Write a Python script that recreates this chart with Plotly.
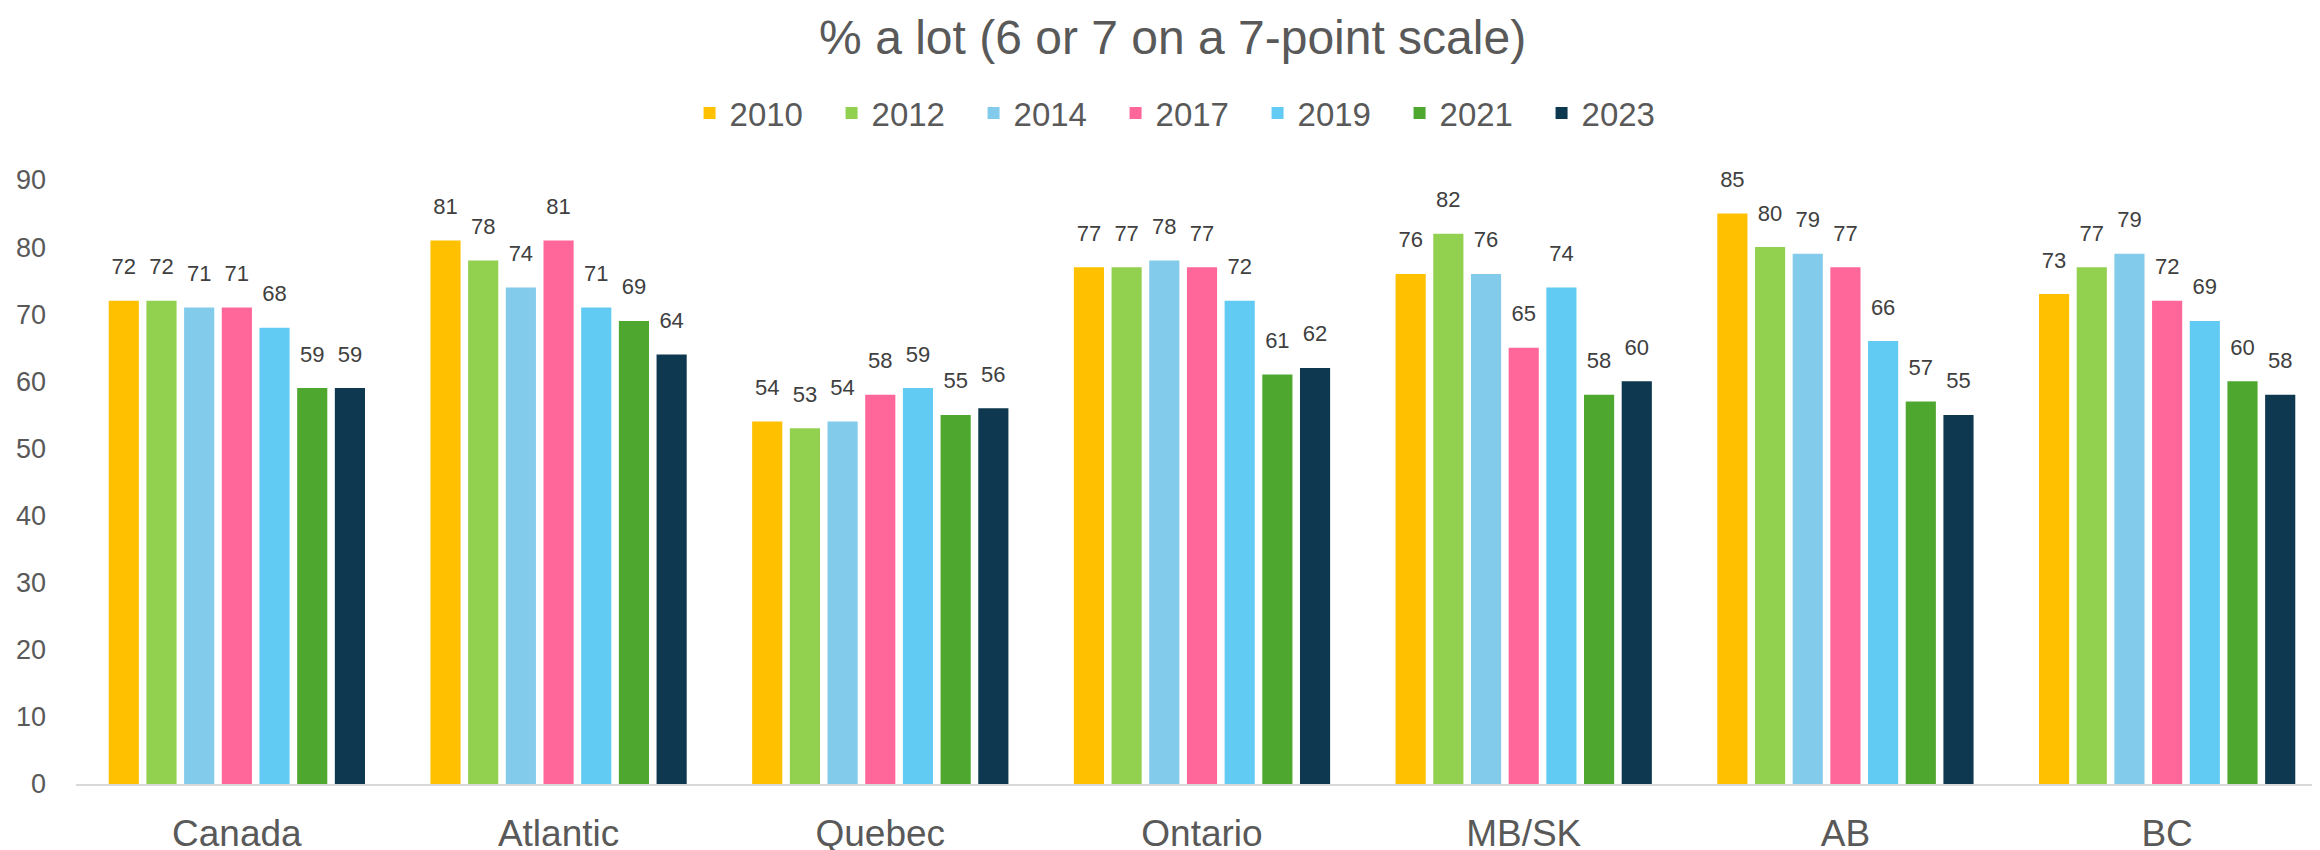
import plotly.graph_objects as go

regions = ["Canada", "Atlantic", "Quebec", "Ontario", "MB/SK", "AB", "BC"]
years = ["2010", "2012", "2014", "2017", "2019", "2021", "2023"]

v2010 = [72, 81, 54, 77, 76, 85, 73]
v2012 = [72, 78, 53, 77, 82, 80, 77]
v2014 = [71, 74, 54, 78, 76, 79, 79]
v2017 = [71, 81, 58, 77, 65, 77, 72]
v2019 = [68, 71, 59, 72, 74, 66, 69]
v2021 = [59, 69, 55, 61, 58, 57, 60]
v2023 = [59, 64, 56, 62, 60, 55, 58]

series = [v2010, v2012, v2014, v2017, v2019, v2021, v2023]
colors = ["#FFC000", "#92D050", "#83CBEB", "#FF6699", "#61CBF3", "#4EA72E", "#0E384F"]

FONT = "Liberation Sans, Arial, sans-serif"

fig = go.Figure()
for yr, vals, col in zip(years, series, colors):
    fig.add_trace(go.Bar(
        name=yr, x=regions, y=vals, marker=dict(color=col, line=dict(width=0)),
        offsetgroup=yr, legendgroup=yr,
    ))
for yr, vals, col in zip(years, series, colors):
    fig.add_trace(go.Scatter(
        x=regions, y=vals, mode="markers+text", text=[str(v) for v in vals],
        textposition="top center", marker=dict(size=32, opacity=0, color=col),
        textfont=dict(size=22, color="#404040", family=FONT),
        offsetgroup=yr, legendgroup=yr, showlegend=False, hoverinfo="skip",
        cliponaxis=False,
    ))

fig.update_layout(
    width=2320, height=850,
    paper_bgcolor="white", plot_bgcolor="white",
    margin=dict(l=68, r=0, t=172, b=74, autoexpand=False),
    barmode="group", bargap=0.18, bargroupgap=0.2,
    scattermode="group", scattergap=0.18,
    font=dict(family=FONT, color="#595959"),
    title=dict(text="% a lot (6 or 7 on a 7-point scale)", x=0.502, xref="container",
               xanchor="center", y=1 - 29 / 850, yref="container", yanchor="middle",
               font=dict(size=48, color="#595959", family=FONT)),
    legend=dict(orientation="h", x=0.508, xref="container", xanchor="center",
                y=1 - 105 / 850, yref="container", yanchor="middle",
                font=dict(size=33, color="#595959", family=FONT),
                entrywidth=97, entrywidthmode="pixels", traceorder="normal"),
    showlegend=True,
)
fig.update_xaxes(showline=True, linecolor="#D9D9D9", linewidth=2, ticks="",
                 tickfont=dict(size=37, color="#595959"), ticklabelstandoff=16,
                 showgrid=False, automargin=False)
fig.update_yaxes(range=[0, 90], dtick=10, showgrid=False, zeroline=False, showline=False,
                 ticks="", tickfont=dict(size=27, color="#595959"), ticklabelstandoff=29,
                 automargin=False)

fig.write_html("out.html")
